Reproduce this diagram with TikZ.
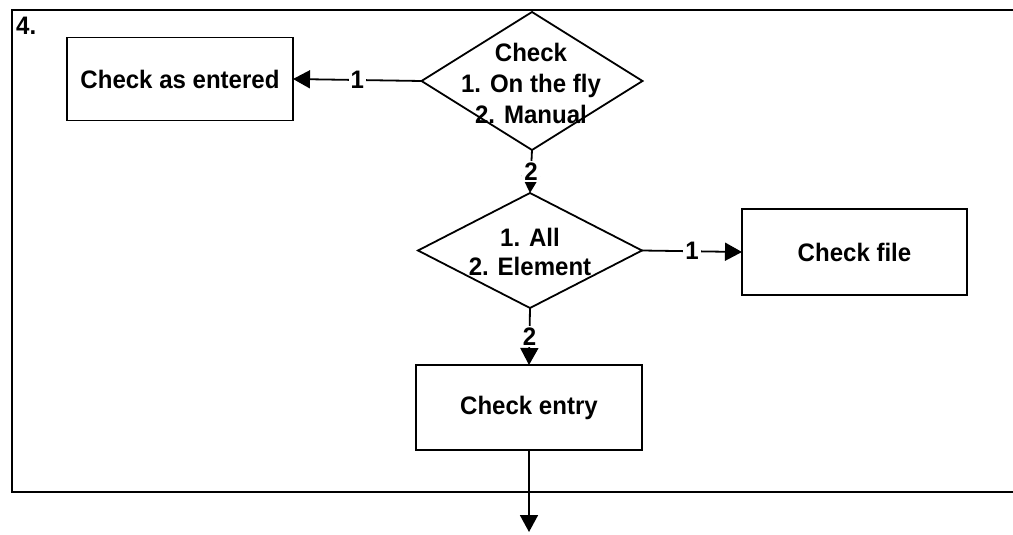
\documentclass[tikz,border=0pt]{standalone}
\usepackage{fontspec}
\setmainfont{Liberation Sans}[BoldFeatures={FakeStretch=0.95}]
\newcommand\boxfont{\bfseries\fontsize{25.3}{31}\selectfont}
\newcommand\tightfont{\bfseries\fontsize{25.3}{29}\selectfont}
\usetikzlibrary{shapes.geometric,arrows.meta}
\begin{document}
\begin{tikzpicture}[x=1pt,y=-1pt,
  every node/.style={font=\boxfont},
  line/.style={line width=1.8pt},
  stepbox/.style={draw,line width=1.8pt,rectangle,inner sep=0pt,outer sep=0pt},
  decision/.style={draw,line width=1.8pt,shape=diamond,inner sep=0pt,outer sep=0pt},
  arr/.style={line width=1.8pt,-{Triangle[length=17pt,width=18pt]}},
  lbl/.style={fill=white,inner sep=2pt}]
\useasboundingbox (0,0) rectangle (1013,535);

% open frame around the section (runs off to the right)
\draw[line] (1013,10) -- (12,10) -- (12,492) -- (1013,492);
\node[anchor=base west,inner sep=0pt] (num) at (16,35) {4.};

% boxes
\node[stepbox,minimum width=226pt,minimum height=83pt] (entered) at (180,79) {Check as entered};
\node[stepbox,minimum width=225pt,minimum height=86pt] (file) at (854.5,252) {Check file};
\node[stepbox,minimum width=226pt,minimum height=85pt] (entry) at (529,407.5) {Check entry};

% decisions
\node[decision,minimum width=221pt,minimum height=138pt] (d1) at (532,81) {};
\node[align=center,inner sep=0pt] (t1) at (531,83) {Check\\1. On the fly\\2. Manual};
\node[decision,minimum width=224pt,minimum height=115pt] (d2) at (530,250.5) {};
\node[align=center,inner sep=0pt,font=\tightfont] (t2) at (530,252) {1. All\\2. Element};

\coordinate (out) at (529,532);

% connectors
\draw[arr] (d1.west) -- node[lbl]{1} (entered.east);
\draw[arr] (d1.south) -- node[lbl]{2} (d2.north);
\draw[arr] (d2.east) -- node[lbl]{1} (file.west);
\draw[arr] (d2.south) -- node[lbl]{2} (entry.north);
\draw[arr] (entry.south) -- (out);
\end{tikzpicture}
\end{document}
